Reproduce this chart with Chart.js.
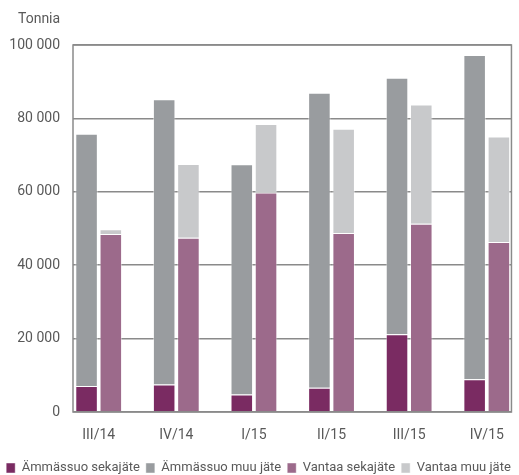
<!DOCTYPE html>
<html>
<head>
<meta charset="utf-8">
<script src="https://cdn.jsdelivr.net/npm/chart.js@4.4.1/dist/chart.umd.min.js"></script>
<style>
  html, body { margin: 0; padding: 0; background: #fff; }
  #wrap { width: 519px; height: 475px; }
</style>
</head>
<body>
<div id="wrap"><canvas id="jateChart"></canvas></div>
<script>
const quarters = ['III/14', 'IV/14', 'I/15', 'II/15', 'III/15', 'IV/15'];
const ammSeka = [7100, 7500, 4800, 6600, 21200, 8900];
const ammMuu = [68700, 77700, 62700, 80400, 69900, 88400];
const vanSeka = [48500, 47500, 59800, 48800, 51300, 46300];
const vanMuu = [1300, 20100, 18700, 28400, 32500, 28800];
const yTicks = [0, 20000, 40000, 60000, 80000, 100000];

const FONT = "Roboto, 'Liberation Sans', sans-serif";
const GRID = '#8a8a8a';

Chart.defaults.font.family = FONT;
Chart.defaults.font.size = 14;
Chart.defaults.color = '#595959';

function points(arr) {
    return arr.map((v, i) => ({ x: i, y: v }));
}

// box round the plot area and the unit label above the axis
const frame = {
    id: 'frame',
    afterDraw(chart) {
        const { ctx, chartArea: a } = chart;
        ctx.save();
        ctx.strokeStyle = GRID;
        ctx.lineWidth = 1.5;
        ctx.strokeRect(a.left, a.top, a.right - a.left, a.bottom - a.top);
        ctx.fillStyle = '#595959';
        ctx.font = '14px ' + FONT;
        ctx.textAlign = 'left';
        ctx.textBaseline = 'middle';
        ctx.fillText('Tonnia', 18, 19);
        ctx.restore();
    }
};

new Chart(document.getElementById('jateChart'), {
    type: 'bar',
    data: {
        datasets: [
            { label: 'Ämmässuo sekajäte', data: points(ammSeka), stack: 'A', backgroundColor: '#7a2b62' },
            { label: 'Ämmässuo muu jäte', data: points(ammMuu), stack: 'A', backgroundColor: '#999c9f' },
            { label: 'Vantaa sekajäte', data: points(vanSeka), stack: 'V', backgroundColor: '#9c6a8b' },
            { label: 'Vantaa muu jäte', data: points(vanMuu), stack: 'V', backgroundColor: '#c8c9cb' }
        ]
    },
    options: {
        responsive: true,
        maintainAspectRatio: false,
        animation: false,
        categoryPercentage: 0.625,
        barPercentage: 0.93,
        borderWidth: 1,
        borderColor: 'rgba(255,255,255,0.45)',
        layout: { padding: { top: 45, right: 2, left: 0, bottom: -9.5 } },
        plugins: {
            tooltip: { enabled: false },
            legend: {
                position: 'bottom',
                labels: { boxWidth: 9, boxHeight: 10, padding: 6, color: '#595959', font: { size: 13 } }
            }
        },
        scales: {
            x: {
                type: 'linear',
                stacked: true,
                offset: false,
                min: -0.331,
                max: 5.318,
                grid: { display: false, drawTicks: false },
                border: { display: false },
                ticks: {
                    stepSize: 1,
                    includeBounds: false,
                    autoSkip: false,
                    maxRotation: 0,
                    padding: 15,
                    callback: (v) => quarters[v] ?? ''
                },
                afterFit: (s) => { s.height = 43.5; }
            },
            y: {
                stacked: true,
                min: 0,
                max: 100000,
                grid: { color: GRID, lineWidth: 1.5, drawTicks: false },
                border: { display: false },
                afterBuildTicks: (s) => { s.ticks = yTicks.map(v => ({ value: v })); },
                ticks: {
                    padding: 13,
                    callback: (v) => String(v).replace(/\B(?=(\d{3})+(?!\d))/g, ' ')
                },
                afterFit: (s) => { s.width = 73; }
            }
        }
    },
    plugins: [frame]
});
</script>
</body>
</html>
